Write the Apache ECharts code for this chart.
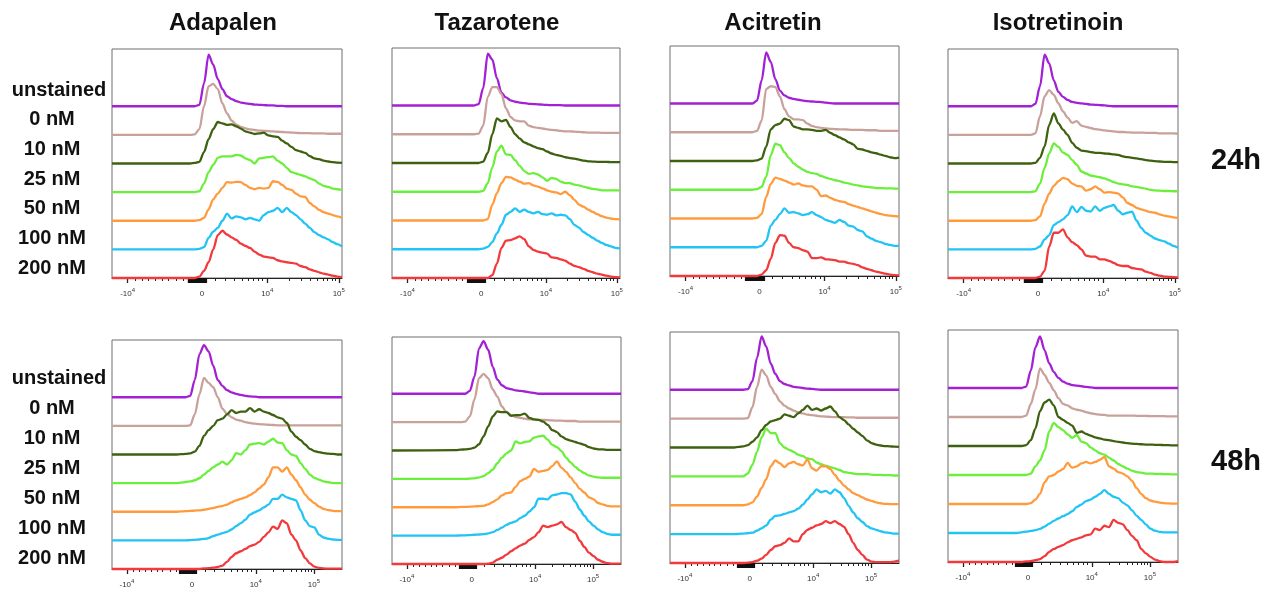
<!DOCTYPE html>
<html>
<head>
<meta charset="utf-8">
<script src="https://cdn.jsdelivr.net/npm/echarts@6.0.0/dist/echarts.min.js"></script>
<style>
  html, body { margin: 0; padding: 0; background: #fff; }
  #chart { width: 1274px; height: 592px; }
</style>
</head>
<body>
<div id="chart"></div>
<script>
// sample positions along the biexponential axis (percent of panel width)
var xPos = [0, 28, 30, 32, 34, 36, 38, 40, 42, 44, 46, 48, 50, 52, 54, 56, 58, 60, 62, 64,
            66, 68, 70, 72, 74, 76, 78, 80, 82, 84, 86, 88, 90, 92, 94, 96, 98, 100];

var drugs = ['Adapalen', 'Tazarotene', 'Acitretin', 'Isotretinoin'];
var times = ['24h', '48h'];
var conc = ['unstained', '0 nM', '10 nM', '25 nM', '50 nM', '100 nM', '200 nM'];
var colors = ['#a321d4', '#c9a19b', '#3e6110', '#6cef3c', '#ff9b3d', '#21c4f4', '#f23a3c'];

// tick labels: [base, exponent]
var tickLabels = [['-10', '4'], ['0', ''], ['10', '4'], ['10', '5']];
var ticks24 = [6.8, 39.1, 67.5, 98.6];
var ticks48 = [6.5, 34.8, 62.5, 87.8];

// histogram heights (in units of the stacking offset), unstained -> 200 nM
var adapalen24 = [
  [0,0, 0,0,0,0, 0.05,0.8,1.8,1.45,0.95,0.6,0.35,0.25,0.18,0.13,0.1,0.08,0.06,0.05,0.04,0.03,0.03,0.01,0.01,0,0,0,0,0,0,0,0,0,0,0,0,0],
  [0,0, 0,0,0,0.02, 0.2,1.0,1.7,1.78,1.6,1.1,0.75,0.5,0.36,0.28,0.23,0.19,0.17,0.15,0.14,0.13,0.12,0.11,0.1,0.09,0.08,0.07,0.06,0.06,0.06,0.05,0.05,0.05,0.04,0.04,0.04,0.04],
  [0,0, 0,0,0,0.02, 0.06,0.4,0.85,1.2,1.45,1.4,1.35,1.37,1.3,1.22,1.12,1.08,1.03,1.05,1.08,0.98,0.95,0.93,0.8,0.7,0.58,0.47,0.42,0.37,0.26,0.18,0.15,0.1,0.07,0.05,0.03,0.02],
  [0,0, 0,0,0,0, 0.03,0.3,0.7,0.95,1.2,1.25,1.25,1.25,1.3,1.28,1.18,1.12,1.0,1.18,1.2,1.22,1.25,1.1,1.0,0.85,0.7,0.65,0.6,0.55,0.48,0.42,0.3,0.22,0.18,0.12,0.1,0.08],
  [0,0, 0,0,0,0, 0.02,0.1,0.4,0.75,0.95,1.15,1.35,1.33,1.36,1.35,1.25,1.15,1.1,1.15,1.12,1.15,1.38,1.36,1.25,1.12,1.08,0.95,0.85,0.83,0.62,0.5,0.38,0.3,0.25,0.2,0.15,0.1],
  [0,0, 0,0,0,0, 0.02,0.08,0.4,0.62,0.75,1.0,1.25,1.08,1.15,1.12,1.05,1.1,1.05,1.0,1.2,1.3,1.35,1.45,1.3,1.45,1.3,1.2,1.05,0.9,0.75,0.6,0.5,0.42,0.35,0.25,0.18,0.1],
  [0,0, 0,0,0,0, 0.05,0.25,0.55,1.0,1.5,1.65,1.52,1.42,1.33,1.2,1.12,1.05,0.92,0.82,0.75,0.72,0.7,0.62,0.58,0.55,0.53,0.5,0.42,0.38,0.3,0.25,0.2,0.15,0.12,0.08,0.05,0.03]
];
var tazarotene24 = [
  [0,0, 0,0,0,0, 0.05,0.6,1.8,1.6,0.95,0.45,0.28,0.18,0.13,0.1,0.08,0.06,0.05,0.04,0.03,0.02,0.01,0.01,0.01,0,0,0,0,0,0,0,0,0,0,0,0,0],
  [0,0, 0,0,0,0, 0.02,0.3,1.3,1.64,1.64,1.4,0.9,0.6,0.48,0.45,0.45,0.3,0.25,0.22,0.2,0.17,0.15,0.14,0.12,0.1,0.1,0.09,0.08,0.07,0.06,0.06,0.06,0.05,0.05,0.05,0.05,0.05],
  [0,0, 0,0,0,0, 0,0.05,0.35,1.0,1.55,1.45,1.5,1.25,1.0,0.85,0.72,0.65,0.58,0.52,0.48,0.4,0.33,0.28,0.25,0.2,0.17,0.15,0.12,0.08,0.06,0.05,0.04,0.04,0.04,0.03,0.03,0.03],
  [0,0, 0,0,0,0, 0,0.03,0.3,0.85,1.4,1.6,1.3,1.28,1.1,0.9,0.72,0.62,0.65,0.6,0.5,0.38,0.48,0.45,0.35,0.3,0.3,0.25,0.22,0.18,0.14,0.1,0.08,0.05,0.05,0.05,0.05,0.05],
  [0,0, 0,0,0,0, 0,0,0.05,0.55,0.95,1.3,1.52,1.5,1.42,1.35,1.28,1.3,1.22,1.18,1.12,1.05,1.0,0.98,0.92,1.0,0.88,0.72,0.55,0.48,0.38,0.3,0.22,0.15,0.1,0.07,0.05,0.04],
  [0,0, 0,0,0,0, 0,0.02,0.08,0.25,0.55,0.85,1.2,1.3,1.42,1.3,1.38,1.3,1.25,1.3,1.22,1.2,1.25,1.18,1.2,1.18,1.05,0.85,0.75,0.6,0.5,0.4,0.3,0.22,0.15,0.1,0.05,0.03],
  [0,0, 0,0,0,0, 0,0,0,0.1,0.5,1.05,1.3,1.32,1.38,1.45,1.35,1.1,0.98,0.92,0.88,0.85,0.72,0.7,0.65,0.6,0.5,0.42,0.38,0.32,0.25,0.2,0.15,0.12,0.08,0.05,0.03,0.02]
];
var acitretin24 = [
  [0,0, 0,0,0,0, 0.1,0.8,1.78,1.45,0.85,0.45,0.28,0.2,0.16,0.13,0.1,0.08,0.07,0.06,0.05,0.03,0.01,0,0,0,0,0,0,0,0,0,0,0,0,0,0,0],
  [0,0, 0,0,0,0, 0.05,0.4,1.5,1.6,1.58,1.25,0.8,0.55,0.45,0.45,0.42,0.3,0.22,0.18,0.15,0.13,0.12,0.11,0.1,0.1,0.09,0.08,0.08,0.08,0.07,0.07,0.07,0.05,0.05,0.05,0.05,0.05],
  [0,0, 0,0,0,0, 0.02,0.08,0.5,1.1,1.25,1.3,1.47,1.42,1.2,1.15,1.1,1.1,1.08,1.05,1.05,1.08,0.98,0.9,0.82,0.75,0.65,0.58,0.42,0.4,0.35,0.3,0.27,0.22,0.18,0.13,0.1,0.12],
  [0,0, 0,0,0,0, 0.02,0.1,0.45,1.2,1.6,1.55,1.3,1.1,0.92,0.8,0.7,0.62,0.58,0.55,0.48,0.42,0.38,0.33,0.3,0.25,0.22,0.18,0.15,0.12,0.1,0.08,0.06,0.06,0.05,0.05,0.04,0.04],
  [0,0, 0,0,0,0, 0.02,0.15,0.75,1.2,1.42,1.38,1.32,1.25,1.18,1.22,1.15,1.12,1.12,1.0,0.78,0.8,0.72,0.65,0.6,0.58,0.5,0.45,0.4,0.35,0.3,0.25,0.2,0.16,0.12,0.1,0.08,0.07],
  [0,0, 0,0,0,0, 0,0.05,0.22,0.75,0.95,1.15,1.35,1.2,1.22,1.18,1.12,1.15,1.22,1.12,1.05,0.95,0.9,0.85,0.95,0.88,0.75,0.72,0.6,0.55,0.38,0.3,0.22,0.18,0.12,0.08,0.05,0.05],
  [0,0, 0,0,0,0, 0,0.05,0.2,0.6,1.15,1.42,1.4,1.15,1.0,0.97,0.9,0.85,0.62,0.62,0.65,0.58,0.57,0.55,0.5,0.5,0.45,0.42,0.38,0.3,0.25,0.2,0.15,0.12,0.08,0.05,0.03,0.02]
];
var isotretinoin24 = [
  [0,0, 0,0,0,0, 0.08,0.7,1.8,1.5,0.9,0.5,0.33,0.22,0.15,0.12,0.1,0.08,0.06,0.05,0.04,0.03,0.01,0,0,0,0,0,0,0,0,0,0,0,0,0,0,0],
  [0,0, 0,0,0,0, 0.05,0.65,1.35,1.56,1.4,1.1,0.82,0.6,0.42,0.48,0.32,0.28,0.24,0.2,0.18,0.16,0.14,0.12,0.1,0.1,0.09,0.08,0.08,0.08,0.07,0.07,0.07,0.05,0.05,0.05,0.05,0.04],
  [0,0, 0,0,0,0, 0.02,0.2,0.6,1.35,1.75,1.4,1.18,1.0,0.72,0.55,0.45,0.43,0.4,0.37,0.37,0.35,0.34,0.32,0.3,0.25,0.22,0.2,0.18,0.15,0.12,0.1,0.08,0.07,0.06,0.06,0.05,0.05],
  [0,0, 0,0,0,0, 0.03,0.3,0.85,1.35,1.7,1.58,1.38,1.3,1.12,0.95,0.72,0.65,0.58,0.55,0.52,0.48,0.42,0.35,0.3,0.27,0.25,0.2,0.18,0.15,0.12,0.08,0.06,0.05,0.04,0.04,0.03,0.03],
  [0,0, 0,0,0,0, 0.02,0.15,0.6,0.95,1.22,1.38,1.5,1.45,1.3,1.22,1.2,1.05,1.1,1.2,1.1,0.98,1.0,0.98,0.95,0.82,0.62,0.55,0.45,0.4,0.35,0.3,0.28,0.22,0.18,0.15,0.12,0.1],
  [0,0, 0,0,0,0, 0.02,0.1,0.35,0.5,0.85,0.95,1.05,1.2,1.5,1.3,1.48,1.35,1.32,1.5,1.35,1.45,1.5,1.55,1.35,1.22,1.28,1.32,1.0,0.75,0.58,0.48,0.38,0.32,0.28,0.2,0.12,0.06],
  [0,0, 0,0,0,0, 0,0.05,0.25,1.1,1.58,1.58,1.7,1.42,1.25,1.15,1.0,0.78,0.75,0.75,0.65,0.65,0.6,0.53,0.45,0.42,0.42,0.35,0.32,0.3,0.22,0.18,0.12,0.08,0.05,0.04,0.03,0.02]
];
var adapalen48 = [
  [0,0, 0,0,0.05,0.6, 1.5,1.82,1.6,1.1,0.6,0.4,0.25,0.17,0.12,0.08,0.05,0.03,0.02,0,0,0,0,0,0,0,0,0,0,0,0,0,0,0,0,0,0,0],
  [0,0, 0,0,0.02,0.4, 1.1,1.68,1.5,1.35,1.0,0.6,0.42,0.3,0.22,0.18,0.13,0.1,0.08,0.06,0.05,0.04,0.03,0.02,0.02,0.02,0.02,0.02,0.02,0.02,0.02,0.02,0.02,0.02,0.02,0.02,0.02,0.02],
  [0,0, 0.01,0.02,0.04,0.1, 0.3,0.65,0.85,1.0,1.2,1.25,1.4,1.55,1.45,1.5,1.5,1.62,1.5,1.58,1.5,1.45,1.38,1.3,1.25,1.1,0.8,0.62,0.5,0.35,0.2,0.12,0.08,0.05,0.03,0.02,0,0],
  [0,0, 0.02,0.04,0.06,0.1, 0.17,0.3,0.43,0.55,0.65,0.75,0.65,0.8,1.05,1.0,1.15,1.35,1.38,1.4,1.35,1.45,1.55,1.42,1.4,1.15,1.0,0.95,0.7,0.5,0.3,0.18,0.12,0.06,0.03,0,0,0],
  [0,0, 0.01,0.02,0.03,0.04, 0.05,0.07,0.1,0.13,0.17,0.2,0.25,0.33,0.4,0.45,0.5,0.58,0.68,0.82,0.95,1.2,1.55,1.55,1.4,1.55,1.3,1.1,0.85,0.6,0.42,0.3,0.18,0.1,0.06,0.03,0.02,0.02],
  [0,0, 0,0,0.01,0.02, 0.03,0.05,0.08,0.15,0.2,0.25,0.3,0.38,0.5,0.6,0.72,0.9,0.98,1.05,1.15,1.25,1.45,1.45,1.6,1.5,1.45,1.4,1.05,0.7,0.5,0.45,0.2,0.1,0.06,0.03,0.02,0.02],
  [0,0, 0,0,0,0, 0,0.02,0.03,0.05,0.07,0.12,0.25,0.42,0.55,0.62,0.7,0.8,0.85,0.95,1.12,1.28,1.48,1.4,1.7,1.6,1.2,1.0,0.65,0.38,0.2,0.08,0.04,0.02,0.01,0.01,0.01,0.01]
];
var tazarotene48 = [
  [0,0, 0,0,0.1,0.6, 1.6,1.85,1.55,0.95,0.5,0.3,0.2,0.16,0.12,0.1,0.08,0.05,0.03,0,0,0,0,0,0,0,0,0,0,0,0,0,0,0,0,0,0,0],
  [0,0, 0,0.02,0.2,0.8, 1.55,1.7,1.55,1.15,0.9,0.55,0.35,0.25,0.18,0.15,0.12,0.1,0.09,0.08,0.08,0.07,0.06,0.05,0.05,0.04,0.04,0.04,0.02,0.02,0.02,0.02,0.02,0.02,0.02,0.02,0.02,0.02],
  [0,0.01, 0.03,0.04,0.06,0.1, 0.22,0.5,0.85,1.2,1.38,1.35,1.35,1.22,1.25,1.25,1.3,1.15,1.1,1.08,1.02,0.9,0.72,0.65,0.5,0.4,0.35,0.3,0.25,0.2,0.12,0.07,0.04,0.04,0.02,0.02,0.02,0.02],
  [0,0, 0,0,0.01,0.02, 0.05,0.1,0.2,0.33,0.55,0.75,0.9,1.0,1.32,1.25,1.3,1.32,1.45,1.5,1.52,1.38,1.2,1.12,0.98,0.75,0.58,0.42,0.3,0.2,0.12,0.08,0.05,0.04,0.04,0.04,0.04,0.04],
  [0,0, 0.01,0.01,0.02,0.03, 0.04,0.05,0.1,0.18,0.28,0.42,0.5,0.52,0.72,0.92,1.0,1.08,1.35,1.25,1.28,1.32,1.45,1.62,1.4,1.25,1.05,0.85,0.65,0.52,0.35,0.28,0.15,0.1,0.05,0.03,0.03,0.03],
  [0,0, 0.01,0.01,0.02,0.03, 0.04,0.05,0.08,0.12,0.2,0.28,0.38,0.45,0.5,0.62,0.7,0.85,1.0,1.3,1.3,1.28,1.42,1.45,1.5,1.5,1.45,1.2,0.92,0.7,0.5,0.35,0.22,0.12,0.06,0.03,0.03,0.03],
  [0,0, 0,0,0,0, 0,0,0.01,0.05,0.15,0.22,0.33,0.45,0.55,0.65,0.72,0.85,0.95,1.12,1.35,1.3,1.35,1.4,1.48,1.3,1.2,1.1,0.82,0.6,0.4,0.28,0.15,0.08,0.03,0.01,0.01,0.01]
];
var acitretin48 = [
  [0,0, 0,0,0.02,0.3, 1.1,1.85,1.5,0.9,0.55,0.3,0.2,0.15,0.1,0.08,0.06,0.04,0.03,0.01,0,0,0,0,0,0,0,0,0,0,0,0,0,0,0,0,0,0],
  [0,0, 0,0,0.02,0.4, 1.1,1.7,1.5,1.1,0.85,0.6,0.45,0.35,0.28,0.22,0.18,0.14,0.12,0.1,0.08,0.07,0.06,0.05,0.05,0.05,0.04,0.04,0.03,0.03,0.03,0.03,0.03,0.03,0.03,0.03,0.03,0.03],
  [0,0, 0.02,0.04,0.08,0.2, 0.35,0.6,0.78,0.9,0.95,1.0,1.15,1.1,1.05,1.18,1.3,1.45,1.3,1.35,1.28,1.35,1.42,1.25,1.05,0.95,0.8,0.65,0.52,0.4,0.25,0.15,0.1,0.07,0.05,0.04,0.03,0.02],
  [0,0, 0,0,0.1,0.4, 0.85,1.35,1.65,1.5,1.5,1.15,1.0,0.92,0.85,0.75,0.7,0.62,0.6,0.48,0.42,0.37,0.32,0.28,0.22,0.15,0.12,0.1,0.08,0.08,0.08,0.06,0.05,0.05,0.04,0.04,0.03,0.03],
  [0,0, 0,0,0.03,0.1, 0.3,0.6,0.9,1.35,1.55,1.45,1.32,1.45,1.5,1.42,1.38,1.58,1.28,1.2,1.35,1.35,1.25,1.05,0.85,0.68,0.55,0.42,0.35,0.27,0.2,0.15,0.1,0.07,0.05,0.04,0.04,0.04],
  [0,0, 0.01,0.02,0.03,0.05, 0.12,0.2,0.3,0.5,0.63,0.65,0.7,0.75,0.8,0.88,1.02,1.2,1.38,1.55,1.45,1.5,1.4,1.55,1.45,1.25,0.98,0.75,0.55,0.42,0.28,0.2,0.15,0.1,0.06,0.04,0.02,0.02],
  [0,0, 0,0,0.01,0.03, 0.08,0.15,0.28,0.45,0.58,0.62,0.7,0.85,0.75,0.75,1.0,1.15,1.22,1.3,1.35,1.45,1.38,1.45,1.35,1.25,1.0,0.7,0.45,0.28,0.12,0.05,0.03,0.03,0.03,0.03,0.05,0.08]
];
var isotretinoin48 = [
  [0,0, 0,0,0.05,0.6, 1.4,1.78,1.3,0.85,0.55,0.35,0.22,0.15,0.1,0.08,0.06,0.04,0.02,0,0,0,0,0,0,0,0,0,0,0,0,0,0,0,0,0,0,0],
  [0,0, 0,0,0.05,0.45, 0.95,1.68,1.45,1.18,0.92,0.65,0.45,0.4,0.3,0.25,0.22,0.17,0.13,0.1,0.08,0.07,0.05,0.05,0.05,0.05,0.05,0.05,0.04,0.04,0.04,0.03,0.03,0.03,0.03,0.02,0.02,0.02],
  [0,0, 0,0,0.03,0.2, 0.6,1.2,1.5,1.6,1.4,1.0,0.9,0.8,0.7,0.45,0.5,0.42,0.36,0.3,0.26,0.22,0.2,0.17,0.14,0.12,0.1,0.08,0.07,0.06,0.05,0.05,0.04,0.04,0.03,0.03,0.02,0.02],
  [0,0, 0,0,0,0.05, 0.3,0.5,0.85,1.5,1.8,1.65,1.55,1.4,1.28,1.38,1.15,1.1,0.95,0.85,0.75,0.7,0.6,0.5,0.38,0.3,0.22,0.15,0.1,0.08,0.05,0.05,0.04,0.04,0.03,0.03,0.02,0.02],
  [0,0, 0,0,0,0.03, 0.15,0.35,0.75,0.95,1.0,1.12,1.2,1.42,1.25,1.3,1.4,1.45,1.4,1.45,1.52,1.62,1.3,1.22,1.1,1.05,0.95,0.8,0.55,0.35,0.2,0.12,0.08,0.05,0.03,0.02,0.01,0.01],
  [0,0, 0,0.02,0.05,0.07, 0.1,0.14,0.22,0.32,0.42,0.5,0.58,0.65,0.75,0.9,0.98,1.1,1.15,1.25,1.35,1.48,1.35,1.25,1.2,1.05,0.95,0.78,0.6,0.45,0.3,0.15,0.08,0.04,0.02,0.02,0.02,0.02],
  [0,0, 0,0,0.02,0.03, 0.06,0.1,0.2,0.35,0.45,0.52,0.58,0.68,0.75,0.8,0.85,0.92,0.95,1.15,1.1,1.25,1.2,1.45,1.35,1.3,1.1,0.9,0.75,0.45,0.3,0.18,0.08,0.03,0,0,0,0.03]
];

// panel boxes in pixels
var panels = [
  { data: adapalen24,     ticks: ticks24, left: 112, top: 49,  width: 230, height: 229 },
  { data: tazarotene24,   ticks: ticks24, left: 392, top: 48,  width: 228, height: 230 },
  { data: acitretin24,    ticks: ticks24, left: 670, top: 46,  width: 229, height: 230 },
  { data: isotretinoin24, ticks: ticks24, left: 948, top: 49,  width: 230, height: 229 },
  { data: adapalen48,     ticks: ticks48, left: 112, top: 340, width: 230, height: 229 },
  { data: tazarotene48,   ticks: ticks48, left: 392, top: 337, width: 229, height: 227 },
  { data: acitretin48,    ticks: ticks48, left: 670, top: 332, width: 229, height: 231 },
  { data: isotretinoin48, ticks: ticks48, left: 948, top: 330, width: 230, height: 232 }
];

var FONT = '"Liberation Sans", Arial, Helvetica, sans-serif';

/**
 * minor ticks of the biexponential axis, built from the major positions
 */
var minorTicks = function(t){
  var res = [], i;
  var neg = [0.1, 0.19, 0.28, 0.37, 0.46, 0.55, 0.66, 0.75];
  var pos = [0.2, 0.35, 0.5, 0.61, 0.71, 0.79, 0.86, 0.93];
  for(i = 0; i < neg.length; i++) res.push(t[0] + (t[1] - t[0]) * neg[i]);
  for(i = 0; i < pos.length; i++) res.push(t[1] + (t[2] - t[1]) * pos[i]);
  for(i = 2; i <= 9; i++) res.push(t[2] + (t[3] - t[2]) * Math.log10(i));
  return res;
};

// the dense block of ticks around zero
var zeroTicks = function(t){
  var res = [];
  var a = t[1] - (t[1] - t[0]) * 0.19, b = t[1] + (t[1] - t[0]) * 0.07;
  for(var v = a; v <= b; v += 0.4) res.push(v);
  return res;
};

var grids = [], xAxes = [], yAxes = [], series = [];

panels.forEach(function(p, pi){
  grids.push({
    left: p.left, top: p.top, width: p.width, height: p.height,
    show: true, borderColor: '#6e6e6e', borderWidth: 1, backgroundColor: 'transparent'
  });
  yAxes.push({ gridIndex: pi, type: 'value', min: 0, max: 8, show: false });

  var majors = p.ticks;
  xAxes.push({
    gridIndex: pi, type: 'value', min: 0, max: 100, position: 'bottom',
    axisLine: { show: true, onZero: false, lineStyle: { color: '#222', width: 1 } },
    axisTick: { show: true, customValues: majors, length: 5, lineStyle: { color: '#222', width: 1.3 } },
    splitLine: { show: false },
    axisLabel: {
      show: true, customValues: majors, margin: 9,
      formatter: function(v){
        var idx = 0;
        for(var i = 0; i < majors.length; i++){ if(Math.abs(majors[i] - v) < 0.01) idx = i; }
        var t = tickLabels[idx];
        return t[1] ? '{b|' + t[0] + '}{s|' + t[1] + '}' : '{b|' + t[0] + '}';
      },
      rich: {
        b: { fontSize: 8, color: '#333', fontFamily: FONT, lineHeight: 11, verticalAlign: 'bottom' },
        s: { fontSize: 6, color: '#333', fontFamily: FONT, lineHeight: 11, verticalAlign: 'top' }
      }
    }
  });
  xAxes.push({
    gridIndex: pi, type: 'value', min: 0, max: 100, position: 'bottom',
    axisLine: { show: false }, splitLine: { show: false }, axisLabel: { show: false },
    axisTick: { show: true, customValues: minorTicks(majors), length: 3, lineStyle: { color: '#222', width: 1 } }
  });
  xAxes.push({
    gridIndex: pi, type: 'value', min: 0, max: 100, position: 'bottom',
    axisLine: { show: false }, splitLine: { show: false }, axisLabel: { show: false },
    axisTick: { show: true, customValues: zeroTicks(majors), length: 5, lineStyle: { color: '#111', width: 1.2 } }
  });

  p.data.forEach(function(h, ci){
    var off = conc.length - 1 - ci;
    series.push({
      type: 'line', xAxisIndex: pi * 3, yAxisIndex: pi,
      name: conc[ci],
      data: xPos.map(function(x, k){ return [x, off + h[k]]; }),
      symbol: 'none', smooth: 0.3, smoothMonotone: 'x', clip: false,
      lineStyle: { color: colors[ci], width: 2.3 },
      silent: true, z: 2 + ci
    });
  });
});

var graphics = [];
var titleX = [223, 497, 773, 1058];
drugs.forEach(function(d, i){
  graphics.push({ type: 'text', style: { text: d, x: titleX[i], y: 23, align: 'center', verticalAlign: 'middle',
    font: 'bold 24px ' + FONT, fill: '#111' } });
});
[90, 378].forEach(function(y0, r){
  var step = r === 0 ? 29.7 : 30;
  conc.forEach(function(c, i){
    graphics.push({ type: 'text', style: { text: c, x: i === 0 ? 59 : 52, y: y0 + i * step,
      align: 'center', verticalAlign: 'middle', font: 'bold 20px ' + FONT, fill: '#111' } });
  });
  graphics.push({ type: 'text', style: { text: times[r], x: 1236, y: r === 0 ? 161 : 462,
    align: 'center', verticalAlign: 'middle', font: 'bold 29px ' + FONT, fill: '#111' } });
});

var chart = echarts.init(document.getElementById('chart'));
chart.setOption({
  animation: false,
  backgroundColor: '#fff',
  grid: grids,
  xAxis: xAxes,
  yAxis: yAxes,
  series: series,
  graphic: graphics
});
</script>
</body>
</html>
